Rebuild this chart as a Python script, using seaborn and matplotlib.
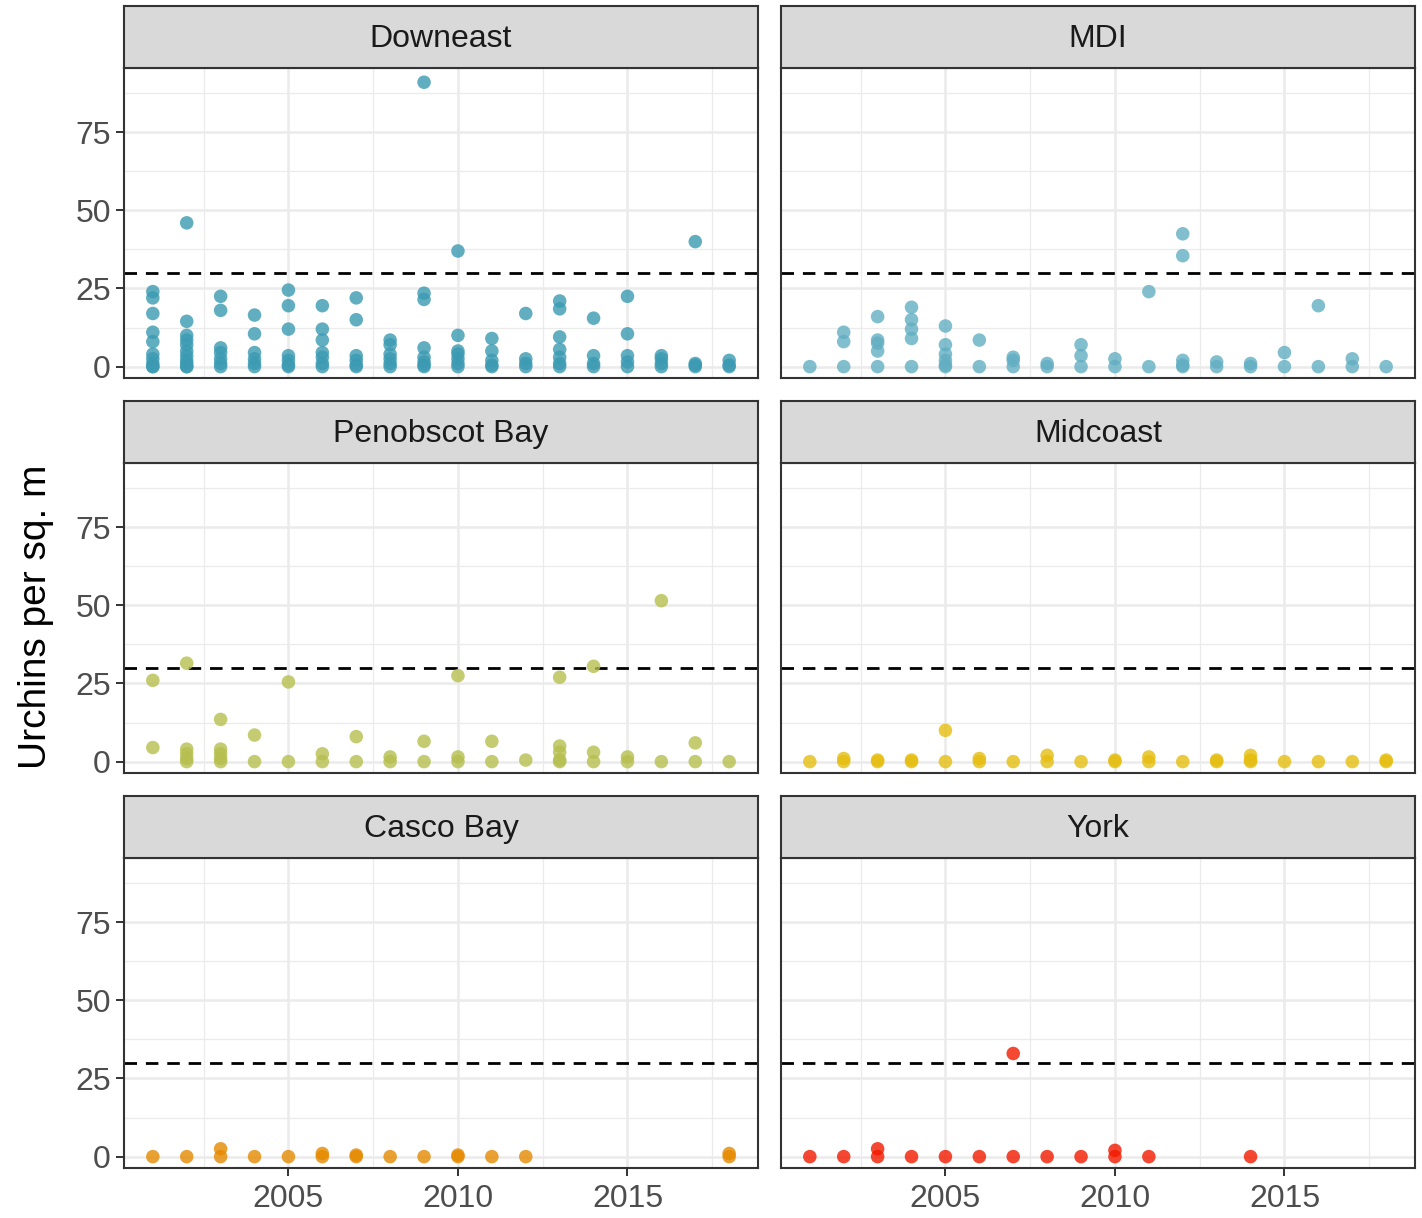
import numpy as np
import pandas as pd
import matplotlib
matplotlib.use("Agg")
import matplotlib.pyplot as plt
from matplotlib.ticker import FixedLocator
import seaborn as sns

# Urchin densities (per sq. m) by survey year for each region
regions = ["Downeast", "MDI", "Penobscot Bay", "Midcoast", "Casco Bay", "York"]
colors = ["#3B9AB2", "#62AEC2", "#B6BF4E", "#E5BE10", "#E58A00", "#F21A00"]

downeast = {
    2001: [24, 22, 17, 11, 8, 4, 2.5, 1, 0, 0],
    2002: [46, 14.5, 10, 8.5, 7, 5, 3.5, 2, 1, 0, 0],
    2003: [22.5, 18, 6, 4.5, 2.5, 1, 0],
    2004: [16.5, 10.5, 4.5, 2.5, 1, 0],
    2005: [24.5, 19.5, 12, 3.5, 2, 0.5, 0],
    2006: [19.5, 12, 8.5, 4.5, 3, 1, 0],
    2007: [22, 15, 3.5, 2, 0.5, 0],
    2008: [8.5, 7, 4, 2.5, 1, 0],
    2009: [91, 23.5, 21.5, 6, 3, 1.5, 0.5, 0],
    2010: [37, 10, 5, 4, 2.5, 1, 0],
    2011: [9, 5, 2, 0.5, 0],
    2012: [17, 2.5, 1, 0],
    2013: [21, 18.5, 9.5, 5.5, 3, 1, 0],
    2014: [15.5, 3.5, 1, 0],
    2015: [22.5, 10.5, 3.5, 1.5, 0],
    2016: [3.5, 2.5, 1, 0],
    2017: [40, 1, 0.5, 0],
    2018: [2, 0.5, 0],
}
mdi = {
    2001: [0],
    2002: [11, 8, 0],
    2003: [16, 8.5, 7.5, 5, 0],
    2004: [19, 15, 12, 9, 0],
    2005: [13, 7, 4, 2, 0.5, 0],
    2006: [8.5, 0],
    2007: [3, 2, 0],
    2008: [1, 0],
    2009: [7, 3.5, 0],
    2010: [2.5, 0],
    2011: [24, 0],
    2012: [42.5, 35.5, 2, 0.5, 0],
    2013: [1.5, 0],
    2014: [1, 0],
    2015: [4.5, 0],
    2016: [19.5, 0],
    2017: [2.5, 0],
    2018: [0],
}
penobscot = {
    2001: [26, 4.5],
    2002: [31.5, 4, 2.5, 1, 0],
    2003: [13.5, 4, 2.5, 1, 0],
    2004: [8.5, 0],
    2005: [25.5, 0],
    2006: [2.5, 0],
    2007: [8, 0],
    2008: [1.5, 0],
    2009: [6.5, 0],
    2010: [27.5, 1.5, 0],
    2011: [6.5, 0],
    2012: [0.5],
    2013: [27, 5, 3, 0.5, 0],
    2014: [30.5, 3, 0],
    2015: [1.5, 0],
    2016: [51.5, 0],
    2017: [6, 0],
    2018: [0],
}
midcoast = {
    2001: [0], 2002: [1, 0], 2003: [0.5, 0], 2004: [0.5, 0], 2005: [10, 0],
    2006: [1, 0], 2007: [0], 2008: [2, 0], 2009: [0], 2010: [0.5, 0],
    2011: [1.5, 0], 2012: [0], 2013: [0.5, 0], 2014: [2, 0.5, 0], 2015: [0],
    2016: [0], 2017: [0], 2018: [0.5, 0],
}
casco = {
    2001: [0], 2002: [0], 2003: [2.5, 0], 2004: [0], 2005: [0], 2006: [1, 0],
    2007: [0.5, 0], 2008: [0], 2009: [0], 2010: [0.5, 0], 2011: [0], 2012: [0],
    2018: [1, 0],
}
york = {
    2001: [0], 2002: [0], 2003: [2.5, 0], 2004: [0], 2005: [0], 2006: [0],
    2007: [33, 0], 2008: [0], 2009: [0], 2010: [2, 0], 2011: [0], 2014: [0],
}
threshold = 30
x_ticks = [2005, 2010, 2015]
y_ticks = [0, 25, 50, 75]

series = [downeast, mdi, penobscot, midcoast, casco, york]
rows = []
for name, d in zip(regions, series):
    for yr, vals in d.items():
        for v in vals:
            rows.append((name, yr, v))
df = pd.DataFrame(rows, columns=["region", "year", "urchins"])

sns.set_theme(style="white")
plt.rcParams["font.family"] = ["Liberation Sans", "DejaVu Sans"]

g = sns.FacetGrid(df, col="region", col_wrap=2, col_order=regions,
                  sharex=True, sharey=True, despine=False, height=4, aspect=1.6)
g.map_dataframe(sns.scatterplot, x="year", y="urchins", hue="region",
                hue_order=regions, palette=colors, s=95, alpha=0.8,
                edgecolor="none", legend=False, zorder=3)

fig = g.figure
fig.set_size_inches(14.22, 12.18)
fig.set_dpi(100)

W, H = 1422, 1218
col_x = [124, 781]
panel_w = 634
row_top = [68, 463, 858]
panel_h = 310
strip_h = 62

ymax = df["urchins"].max()
ylim = (-0.04 * ymax, 1.05 * ymax)
xlim = (2001 - 0.05 * 17, 2018 + 0.05 * 17)

grid_col = "#EBEBEB"
border_col = "#333333"
for i, (ax, name) in enumerate(zip(g.axes.flat, regions)):
    r, c = divmod(i, 2)
    x0 = col_x[c] / W
    y0 = 1 - (row_top[r] + panel_h) / H
    ax.set_position([x0, y0, panel_w / W, panel_h / H])
    ax.set_xlim(*xlim)
    ax.set_ylim(*ylim)
    ax.set_title("")
    ax.set_xlabel("")
    ax.set_ylabel("")
    ax.set_facecolor("white")

    ax.xaxis.set_major_locator(FixedLocator(x_ticks))
    ax.xaxis.set_minor_locator(FixedLocator([2002.5, 2007.5, 2012.5, 2017.5]))
    ax.yaxis.set_major_locator(FixedLocator(y_ticks))
    ax.yaxis.set_minor_locator(FixedLocator([12.5, 37.5, 62.5, 87.5]))
    ax.grid(which="major", color=grid_col, linewidth=1.8, zorder=0)
    ax.grid(which="minor", color=grid_col, linewidth=0.9, zorder=0)
    ax.set_axisbelow(True)

    for sp in ax.spines.values():
        sp.set_color(border_col)
        sp.set_linewidth(1.5)
        sp.set_visible(True)

    ax.axhline(threshold, color="black", linestyle=(0, (4.5, 3.2)),
               linewidth=2.0, zorder=2)

    ax.tick_params(axis="both", which="major", length=5.5, width=1.4,
                   color=border_col, labelsize=23, labelcolor="#4D4D4D",
                   direction="out", pad=4)
    ax.tick_params(axis="x", which="major", pad=6)
    ax.tick_params(axis="both", which="minor", length=0)
    ax.tick_params(axis="x", bottom=(r == 2), labelbottom=(r == 2))
    ax.tick_params(axis="y", left=(c == 0), labelleft=(c == 0))
    ax.set_xticklabels([str(t) for t in x_ticks])
    ax.set_yticklabels([str(t) for t in y_ticks])

    # facet strip above the panel
    sy0 = 1 - row_top[r] / H
    strip = fig.add_axes([x0, sy0, panel_w / W, strip_h / H])
    strip.set_xticks([])
    strip.set_yticks([])
    strip.set_facecolor("#D9D9D9")
    for sp in strip.spines.values():
        sp.set_color(border_col)
        sp.set_linewidth(1.5)
    strip.text(0.5, 0.47, name, ha="center", va="center", fontsize=23,
               color="#1A1A1A", transform=strip.transAxes)

fig.text(36 / W, 1 - 617 / H, "Urchins per sq. m", rotation=90,
         ha="center", va="center", fontsize=28, color="black")

fig.savefig("out.png", dpi=100)
